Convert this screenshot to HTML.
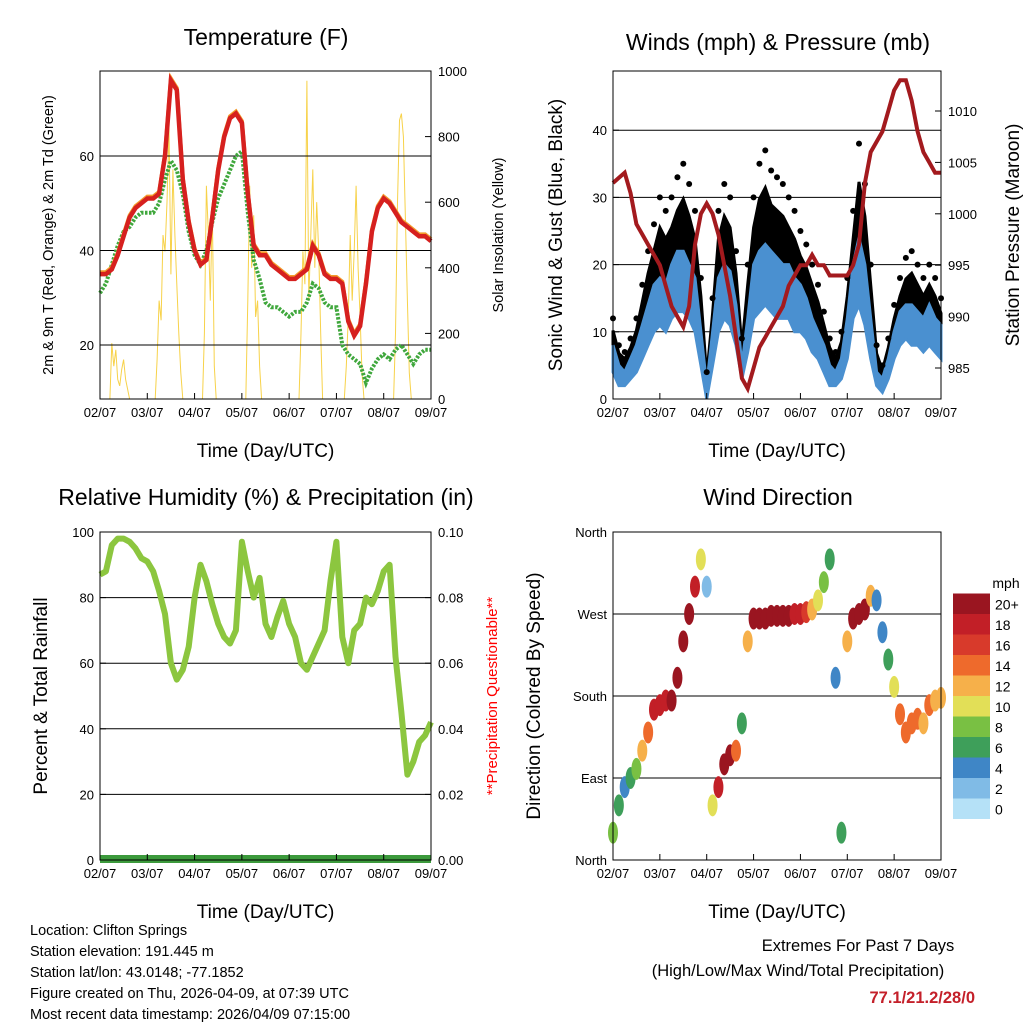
<!DOCTYPE html>
<html><head><meta charset="utf-8"><style>
body{margin:0;background:#fff;}
svg{display:block;font-family:"Liberation Sans",sans-serif;}
</style></head><body>
<svg id="fig" width="1024" height="1024" viewBox="0 0 1024 1024"></svg>
<script>
// ---- data (3-hourly, hours since 02/07 00 UTC) ----
const hours = [0,3,6,9,12,15,18,21,24,27,30,33,36,39,42,45,48,51,54,57,60,63,66,69,72,75,78,81,84,87,90,93,96,99,102,105,108,111,114,117,120,123,126,129,132,135,138,141,144,147,150,153,156,159,162,165,168];
const tempF = [35,35,36,39,43,47,49,50,51,51,52,60,76,74,55,46,40,37,38,47,57,64,68,69,67,52,41,39,39,37,36,35,34,34,35,36,41,39,35,34,34,33,25,22,24,33,44,49,51,50,48,46,45,44,43,43,42];
const dewF = [31,33,37,41,44,45,47,48,48,48,50,55,59,57,52,44,39,37,40,46,51,54,57,60,61,48,38,34,29,28,28,27,26,27,27,29,33,32,29,28,28,20,18,17,16,12,15,17,18,17,19,20,18,16,18,19,19];
const solarHours = [0,5,6,7,8,9,10,11,12,13,15,28,29,30,31,32,33,34,35,36,37,38,39,40,41,42,52,53,54,55,56,57,58,59,74,75,76,77,78,79,80,81,82,101,102,103,104,105,106,107,108,109,110,111,112,113,124,125,126,127,128,129,130,131,132,133,134,149,150,151,152,153,154,155,156,157,158,168];
const solarVals = [0,0,170,100,150,60,40,90,120,60,0,0,120,300,240,500,450,600,830,380,700,500,350,200,80,0,0,200,650,500,300,580,100,0,0,300,650,400,560,250,300,100,0,0,200,450,350,970,300,500,700,400,600,450,200,0,0,100,250,500,300,450,650,400,250,80,0,0,200,600,850,870,800,550,300,80,0,0];
const windMean = [8,5,4,6,8,11,14,17,18,17,20,22,22,20,18,10,2,10,18,20,19,14,5,12,20,22,23,22,21,20,20,18,17,15,12,10,8,5,4,6,12,20,24,20,12,4,3,6,10,13,14,14,13,12,14,12,11];
const windLull = [4,2,2,3,4,6,8,10,11,10,12,13,13,12,10,5,0,5,10,12,11,8,3,7,12,13,14,13,12,12,12,10,10,9,7,6,4,2,2,3,6,12,14,11,6,2,1,3,6,8,9,8,8,7,8,7,6];
const windGust = [12,8,7,9,12,17,22,26,30,28,30,33,35,32,28,18,4,15,28,32,30,22,9,20,30,35,37,34,33,32,30,28,25,23,20,17,13,9,7,10,18,28,38,32,20,8,5,9,14,18,21,22,20,18,20,18,15];
const pressure = [1003,1003.5,1004,1002,999,998,997,996,995,993,991,990,989,991,997,1000,1001,1000,998,995,992,988,984,983,985,987,988,989,990,991,993,994,995,995,996,995,995,994,994,994,994,995,997,1003,1006,1007,1008,1010,1012,1013,1013,1011,1008,1006,1005,1004,1004];
const rh = [87,88,96,98,98,97,95,92,91,88,82,75,60,55,58,65,80,90,85,78,72,68,66,70,97,88,80,86,72,68,74,79,72,68,60,58,62,66,70,85,97,68,60,70,72,80,78,82,88,90,62,45,26,30,36,38,42];
const precip = [0,0,0,0,0,0,0,0,0,0,0,0,0,0,0,0,0,0,0,0,0,0,0,0,0,0,0,0,0,0,0,0,0,0,0,0,0,0,0,0,0,0,0,0,0,0,0,0,0,0,0,0,0,0,0,0,0];
const windDir = [30,60,80,90,100,120,140,165,170,175,175,200,240,270,300,330,300,60,80,105,115,120,150,240,265,265,265,268,268,268,268,270,270,272,275,285,305,330,200,30,240,265,270,275,290,285,250,220,190,160,140,150,155,150,170,175,178];
const dayLabels = ["02/07","03/07","04/07","05/07","06/07","07/07","08/07","09/07"];
const tempTicks = [20,40,60];
const solarTicks = [0,200,400,600,800,1000];
const windTicks = [0,10,20,30,40];
const presTicks = [985,990,995,1000,1005,1010];
const rhTicks = [0,20,40,60,80,100];
const rainTicks = ["0.00","0.02","0.04","0.06","0.08","0.10"];
const dirTicks = [0,90,180,270,360];
const dirNames = ["North","East","South","West","North"];
const cbLabels = ["0","2","4","6","8","10","12","14","16","18","20+"];
const cbColors = ["#b5e1f7","#80bbe6","#3f86c6","#3e9f5a","#79c043","#e2df57","#f6b04a","#ee6a2c","#d83a2b","#c21f27","#9a1520"];

const svg = document.getElementById('fig');
const NS = 'http://www.w3.org/2000/svg';
function mk(tag, attrs, parent){const e=document.createElementNS(NS,tag);for(const k in attrs)e.setAttribute(k,attrs[k]);(parent||svg).appendChild(e);return e;}
function txt(x,y,s,size,anchor,parent,extra){const e=mk('text',Object.assign({x:x,y:y,'font-size':size,'text-anchor':anchor||'middle',fill:'#000'},extra||{}),parent);e.textContent=s;return e;}
function pts(xs,ys){return xs.map((x,i)=>x.toFixed(1)+','+ys[i].toFixed(1)).join(' ');}

function panel(name,x0,x1,y0,y1){
  const g=mk('g',{});
  
  
  return {g,x0,x1,y0,y1,xs:h=>x0+h/168*(x1-x0)};
}
function frame(p){
  const r=mk('rect',{x:p.x0,y:p.y0,width:p.x1-p.x0,height:p.y1-p.y0,fill:'none',stroke:'#000','stroke-width':1},p.g);
  
  
}
function xAxis(p){
  dayLabels.forEach((d,i)=>{
    const x=p.xs(i*24);
    const t=mk('line',{x1:x,y1:p.y1,x2:x,y2:p.y1-6,stroke:'#000'},p.g);
    
    
    const l=txt(x,p.y1+18,d,13,'middle',p.g);
    
    
  });
  const at=txt((p.x0+p.x1)/2,p.y1+58,'Time (Day/UTC)',19,'middle',p.g);
  
  
}
function yAxis(p,ticks,scale,labels,side,grid){
  ticks.forEach((v,i)=>{
    const y=scale(v);
    if(grid && y>p.y0+1 && y<p.y1-1){
      const gl=mk('line',{x1:p.x0,y1:y,x2:p.x1,y2:y,stroke:'#000','stroke-width':1},p.g);
      
      
    }
    const xa=side==='left'?p.x0:p.x1;
    const tk=mk('line',{x1:xa,y1:y,x2:side==='left'?xa+6:xa-6,y2:y,stroke:'#000'},p.g);
    
    
    const l=txt(side==='left'?p.x0-6:p.x1+7,y+5,labels[i],13,side==='left'?'end':'start',p.g);
    
    
  });
}
function vtitle(x,y,s,size,name,color){
  const t=txt(x,y,s,size,'middle',svg,{transform:'rotate(-90 '+x+' '+y+')',fill:color||'#000'});
  
  
}
function title(x,y,s,name){
  const t=txt(x,y,s,23,'middle');
  
  
}
function band(xs,lo,hi){return pts(xs,hi)+' '+pts(xs.slice().reverse(),lo.slice().reverse());}

// ---- Panel 1: Temperature ----
const p1=panel('temperature-panel',100,431,71,399);
const yT=v=>345-(v-20)*4.725, yS=v=>399-v*0.328;
const solar=mk('polyline',{points:pts(solarHours.map(p1.xs),solarVals.map(yS)),fill:'none',stroke:'#f7d24a','stroke-width':1},p1.g);


yAxis(p1,tempTicks,yT,tempTicks.map(String),'left',true);
yAxis(p1,solarTicks,yS,solarTicks.map(String),'right',false);
const dew=mk('polyline',{points:pts(hours.map(p1.xs),dewF.map(yT)),fill:'none',stroke:'#3fa73c','stroke-width':4,'stroke-dasharray':'2.5 1.5'},p1.g);


const t9=mk('polyline',{points:pts(hours.map(p1.xs),tempF.map(v=>yT(v+0.4))),fill:'none',stroke:'#f39a2b','stroke-width':4},p1.g);


const t2=mk('polyline',{points:pts(hours.map(p1.xs),tempF.map(yT)),fill:'none',stroke:'#d6201f','stroke-width':4.5},p1.g);


frame(p1);xAxis(p1);
title(266,45,'Temperature (F)','temperature-title');
vtitle(53,235,'2m & 9m T (Red, Orange) & 2m Td (Green)',14.5,'temp-y-axis-title');
vtitle(503,235,'Solar Insolation (Yellow)',14.5,'solar-y-axis-title');

// ---- Panel 2: Winds ----
const p2=panel('winds-panel',613,941,71,399);
const yW=v=>399-v*6.72, yP=v=>368-(v-985)*10.28;
yAxis(p2,windTicks,yW,windTicks.map(String),'left',true);
yAxis(p2,presTicks,yP,presTicks.map(String),'right',false);
const xs2=hours.map(p2.xs);
const ga=mk('polygon',{points:band(xs2,windMean.map(yW),windGust.map(v=>yW(v*0.85))),fill:'#000',stroke:'#000','stroke-width':3},p2.g);


const wa=mk('polygon',{points:band(xs2,windLull.map(yW),windMean.map(yW)),fill:'#4a90d0',stroke:'#4a90d0','stroke-width':3},p2.g);


hours.forEach((h,i)=>{
  const c=mk('circle',{cx:p2.xs(h),cy:yW(windGust[i]),r:3,fill:'#000'},p2.g);
  
  
});
const pr=mk('polyline',{points:pts(xs2,pressure.map(yP)),fill:'none',stroke:'#a31a1e','stroke-width':4},p2.g);


frame(p2);xAxis(p2);
title(778,50,'Winds (mph) & Pressure (mb)','winds-title');
vtitle(562,235,'Sonic Wind & Gust (Blue, Black)',19,'wind-y-axis-title');
vtitle(1019,235,'Station Pressure (Maroon)',19,'pressure-y-axis-title');

// ---- Panel 3: RH ----
const p3=panel('humidity-panel',100,431,532,860);
const yR=v=>860-v*3.28, yRain=v=>860-v*3280;
yAxis(p3,rhTicks,yR,rhTicks.map(String),'left',true);
yAxis(p3,rainTicks.map(Number),yRain,rainTicks,'right',false);
const rl=mk('polyline',{points:pts(hours.map(p3.xs),rh.map(yR)),fill:'none',stroke:'#8cc63f','stroke-width':6,'stroke-linejoin':'round'},p3.g);


const pl=mk('polyline',{points:pts(hours.map(p3.xs),precip.map(v=>yRain(v)-1)),fill:'none',stroke:'#3c9a3c','stroke-width':8},p3.g);


frame(p3);xAxis(p3);
title(266,505,'Relative Humidity (%) & Precipitation (in)','humidity-title');
vtitle(47,696,'Percent & Total Rainfall',19,'rh-y-axis-title');
vtitle(497,696,'**Precipitation Questionable**',15,'precip-y-axis-title','#ff0000');

// ---- Panel 4: Wind direction ----
const p4=panel('wind-direction-panel',613,941,532,860);
const yD=v=>860-v*0.9111;
yAxis(p4,dirTicks,yD,dirNames,'left',true);
function spdColor(s){let k=Math.min(10,Math.max(0,Math.round(s/2)));return cbColors[k];}
hours.forEach((h,i)=>{
  const c=mk('ellipse',{cx:p4.xs(h),cy:yD(windDir[i]),rx:5,ry:11,fill:spdColor(windMean[i])},p4.g);
  
  
});
frame(p4);xAxis(p4);
title(778,505,'Wind Direction','wind-direction-title');
vtitle(540,696,'Direction (Colored By Speed)',19,'direction-y-axis-title');
// colorbar
const cb=mk('g',{});


cbColors.forEach((c,i)=>{
  const y=819-(i+1)*20.5;
  const r=mk('rect',{x:953,y:y,width:37,height:20.5,fill:c},cb);
  
  
  const l=txt(995,y+16,cbLabels[i],14,'start',cb);
  
  
});
const mph=txt(1006,588,'mph',14,'middle',cb);



// ---- footer ----
const info=["Location: Clifton Springs","Station elevation: 191.445 m","Station lat/lon: 43.0148; -77.1852","Figure created on Thu, 2026-04-09, at 07:39 UTC","Most recent data timestamp: 2026/04/09 07:15:00"];
info.forEach((s,i)=>{
  const t=txt(30,935+i*21,s,14.5,'start');
  
  
});
const e1=txt(858,951,'Extremes For Past 7 Days',16.5,'middle');


const e2=txt(798,976,'(High/Low/Max Wind/Total Precipitation)',16.5,'middle');


const e3=txt(975,1003,'77.1/21.2/28/0',16.5,'end',svg,{fill:'#c4202a','font-weight':'bold'});


</script>
</body></html>
